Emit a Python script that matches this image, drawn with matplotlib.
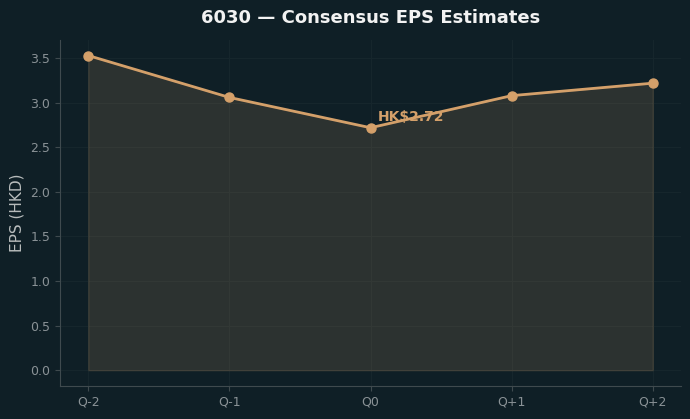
import matplotlib
matplotlib.use("Agg")
import matplotlib.pyplot as plt

# data
quarters = ["Q-2", "Q-1", "Q0", "Q+1", "Q+2"]
eps = [3.53, 3.06, 2.72, 3.08, 3.22]
current_label = "HK$2.72"
current_idx = 2

bg = "#0f1f26"
line_col = "#d4a06a"

fig = plt.figure(figsize=(6.9, 4.19), dpi=100, facecolor=bg)
ax = fig.add_axes([0.087, 0.079, 0.900, 0.826], facecolor=bg)

x = list(range(len(quarters)))
ax.fill_between(x, eps, color=line_col, alpha=0.15, zorder=2)
ax.plot(x, eps, color=line_col, linewidth=2, marker="o", markersize=6.5, zorder=3)

ax.annotate(current_label, (x[current_idx], eps[current_idx]),
            xytext=(5, 3), textcoords="offset points",
            color=line_col, fontsize=10, fontweight="bold", va="bottom", zorder=4)

ax.set_xticks(x)
ax.set_xticklabels(quarters)
ax.set_ylabel("EPS (HKD)", color="#b8bcbc", fontsize=11)
ax.set_title("6030 — Consensus EPS Estimates", color="#f2f2f2",
             fontsize=13, fontweight="bold", pad=12)

ax.grid(True, color="#16262c", linewidth=0.8)
ax.set_axisbelow(True)
for s in ["top", "right"]:
    ax.spines[s].set_visible(False)
for s in ["left", "bottom"]:
    ax.spines[s].set_color("#3f4a4e")
ax.tick_params(colors="#3f4a4e", labelcolor="#8a9296", labelsize=9)

fig.savefig("out.png", dpi=100, facecolor=bg)
